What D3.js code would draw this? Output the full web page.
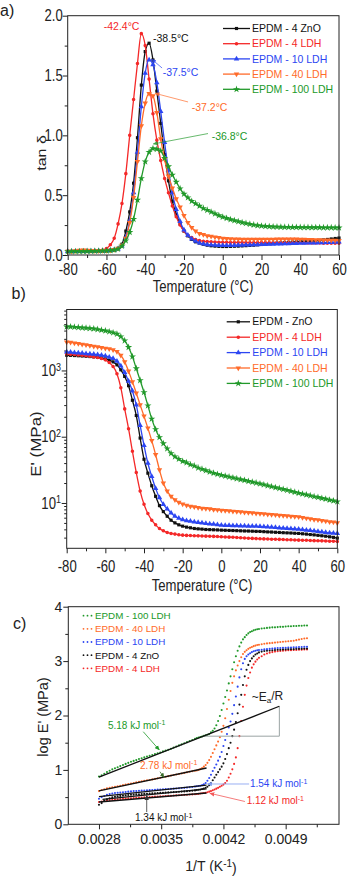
<!DOCTYPE html>
<html><head><meta charset="utf-8">
<script src="https://cdn.jsdelivr.net/npm/d3@7"></script>
<style>
body{margin:0;background:#fff}
svg{display:block}
text{font-family:"Liberation Sans",Arial,Helvetica,sans-serif}
</style>
</head><body>
<svg id="c" width="347" height="876"></svg>
<script>
// ---------------- DATA ----------------
const temps = [-80,-78,-76,-74,-72,-70,-68,-66,-64,-62,-60,-58,-56,-54,-52,-50,-48,-46,-44,-42,-40,-38,-36,-34,-32,-30,-28,-26,-24,-22,-20,-18,-16,-14,-12,-10,-8,-6,-4,-2,0,2,4,6,8,10,12,14,16,18,20,22,24,26,28,30,32,34,36,38,40,42,44,46,48,50,52,54,56,58,60];

// panel a: tan delta
const tanZnO = [.03,.03,.03,.03,.032,.032,.033,.033,.034,.035, .036,.04,.045,.055,.09,.2,.36,.6,.98,1.42, 1.7,1.77,1.63,1.37,1.1,.84,.62,.45,.34,.26, .2,.16,.13,.11,.1,.09,.082,.077,.074,.072, .071,.071,.072,.073,.074,.076,.078,.08,.082,.085, .088,.091,.094,.097,.1,.102,.104,.106,.108,.11, .112,.114,.116,.118,.12,.123,.126,.13,.134,.138, .142];
const tan4LDH = [.03,.03,.032,.033,.035,.035,.036,.037,.038,.042, .055,.085,.14,.26,.43,.68,1.0,1.3,1.6,1.85, 1.75,1.47,1.18,.96,.79,.64,.52,.41,.32,.25, .2,.165,.145,.13,.12,.115,.112,.11,.108,.107, .106,.106,.105,.105,.105,.105,.104,.104,.104,.104, .104,.104,.104,.103,.103,.103,.103,.102,.102,.102, .102,.101,.101,.1,.1,.1,.099,.099,.098,.098, .098];
const tan10LDH = [.03,.03,.031,.031,.032,.032,.033,.033,.034,.034, .035,.038,.042,.05,.075,.15,.29,.52,.86,1.24, 1.52,1.63,1.59,1.44,1.2,.94,.71,.52,.38,.28, .21,.165,.135,.115,.1,.092,.087,.084,.082,.081, .08,.08,.08,.081,.082,.083,.084,.085,.086,.087, .088,.089,.09,.091,.092,.093,.094,.095,.096,.097, .098,.099,.1,.101,.102,.103,.104,.105,.106,.108, .11];
const tan40LDH = [.03,.03,.035,.04,.042,.04,.037,.035,.035,.036, .037,.04,.045,.055,.08,.14,.27,.48,.78,1.08, 1.27,1.35,1.33,1.19,.97,.8,.66,.56,.47,.4, .33,.27,.23,.2,.18,.17,.16,.155,.15,.145, .14,.137,.135,.133,.132,.131,.13,.13,.13,.13, .13,.13,.13,.131,.132,.132,.133,.133,.132,.132, .131,.13,.129,.128,.127,.126,.125,.124,.123,.122, .12];
const tan100LDH = [.03,.03,.03,.03,.03,.031,.032,.033,.034,.035, .036,.038,.042,.05,.075,.12,.19,.3,.46,.64, .78,.86,.89,.885,.87,.81,.74,.67,.61,.555, .51,.48,.45,.43,.41,.39,.375,.36,.345,.33, .318,.307,.297,.288,.28,.272,.265,.258,.252,.247, .243,.24,.238,.236,.235,.234,.233,.233,.232,.232, .231,.231,.231,.23,.23,.23,.229,.229,.229,.228, .228];

// panel b: storage modulus E' (MPa)
const modZnO = [1698,1690,1679,1667,1652,1637,1622,1603,1585,1549, 1496,1429,1349,1216,1023,813,589,355,209,95.5, 45.7,28.2,18.2,12.6,9.12,7.41,6.31,5.5,5.01,4.68, 4.47,4.32,4.22,4.12,4.07,4.03,3.98,3.96,3.94,3.92, 3.89,3.87,3.85,3.84,3.82,3.8,3.78,3.77,3.75,3.73, 3.72,3.69,3.66,3.64,3.61,3.59,3.56,3.54,3.52,3.49, 3.47,3.43,3.39,3.34,3.3,3.25,3.2,3.15,3.09,3.03, 2.95];
const mod4LDH = [1778,1758,1738,1718,1698,1667,1641,1603,1567,1514, 1445,1318,1148,891,550,263,132,60.3,28.8,15.1, 9.55,6.92,5.5,4.68,4.12,3.8,3.59,3.47,3.39,3.31, 3.27,3.24,3.22,3.21,3.19,3.18,3.16,3.15,3.13,3.11, 3.09,3.07,3.05,3.03,3.01,2.99,2.96,2.94,2.92,2.9, 2.88,2.87,2.86,2.84,2.83,2.82,2.81,2.79,2.78,2.77, 2.75,2.74,2.73,2.72,2.7,2.69,2.68,2.67,2.65,2.64, 2.63];
const mod10LDH = [1905,1884,1862,1841,1820,1799,1778,1758,1738,1698, 1660,1585,1514,1380,1175,933,692,490,302,148, 74.1,39.8,25.1,16.6,12,9.55,8.13,7.08,6.31,5.89, 5.62,5.43,5.31,5.19,5.07,5.01,4.9,4.84,4.79,4.7, 4.62,4.6,4.58,4.56,4.54,4.52,4.5,4.48,4.47,4.45, 4.42,4.38,4.34,4.3,4.26,4.22,4.18,4.14,4.1,4.07, 4.03,3.96,3.9,3.84,3.78,3.72,3.66,3.6,3.54,3.51, 3.47];
const mod40LDH = [2692,2661,2600,2541,2483,2427,2371,2317,2265,2213, 2163,2113,2042,1928,1698,1349,977,676,457,302, 204,135,87.1,53.7,31.6,20,15.1,12.6,11.2,10.2, 9.66,9.23,8.91,8.71,8.51,8.32,8.22,8.13,7.94,7.85, 7.76,7.67,7.59,7.5,7.41,7.33,7.24,7.16,7.08,7, 6.92,6.84,6.76,6.68,6.61,6.53,6.46,6.38,6.31,6.24, 6.17,6.03,5.89,5.75,5.62,5.56,5.43,5.31,5.19,5.13, 5.01];
const mod100LDH = [4570,4570,4520,4470,4420,4370,4320,4270,4170,4070, 3980,3850,3720,3550,3240,2820,2240,1620,1070,708, 468,295,186,129,98,79,66,56,50,46, 42.7,40.7,38,36.3,33.9,32.4,30.9,29.5,28.2,27.2, 26.3,25.5,24.8,24,23.3,22.6,22,21.3,20.7,20.1, 19.5,18.9,18.3,17.7,17.1,16.6,16.1,15.6,15.1,14.6, 14.1,13.7,13.3,12.9,12.5,12.2,11.8,11.5,11.1,10.8, 10.5];

// panel c: log E' vs 1/T
const invT = [0.00280,0.00283,0.00286,0.00289,0.00292,0.00295,0.00298,0.00301,0.00304,0.00307,0.00310,0.00313,0.00316,0.00319,0.00322,0.00325,0.00328,0.00331,0.00334,0.00337,0.00340,0.00343,0.00346,0.00349,0.00352,0.00355,0.00358,0.00361,0.00364,0.00367,0.00370,0.00373,0.00376,0.00379,0.00382,0.00385,0.00388,
 0.00390,0.00392,0.00394,0.00396,0.00398,0.00400,0.00402,0.00404,0.00406,0.00408,0.00410,0.00412,0.00414,0.00416,0.00418,0.00420,0.00422,0.00424,0.00426,0.00428,0.00430,0.00432,0.00434,0.00436,0.00438,0.00440,0.00442,0.00444,0.00446,0.00448,0.00450,0.00452,0.00454,0.00456,0.00458,0.00460,
 0.00463,0.00466,0.00469,0.00472,0.00475,0.00478,0.00481,0.00484,0.00487,0.00490,0.00493,0.00496,0.00499,0.00502,0.00505,0.00508,0.00511,0.00514];
const log100LDH = [0.88,0.90,0.93,0.96,0.985,1.01,1.03,1.05,1.07,1.09,1.11,1.13,1.15,1.165,1.18,1.20,1.215,1.23,1.245,1.26,1.275,1.29,1.305,1.32,1.34,1.355,1.37,1.39,1.41,1.43,1.45,1.47,1.49,1.51,1.53,1.55,1.57,
 1.585,1.595,1.605,1.615,1.625,1.635,1.645,1.66,1.69,1.72,1.76,1.82,1.90,1.99,2.10,2.22,2.34,2.46,2.59,2.72,2.85,2.98,3.09,3.19,3.27,3.34,3.40,3.44,3.48,3.51,3.535,3.55,3.565,3.575,3.585,3.59,
 3.60,3.605,3.61,3.615,3.62,3.62,3.625,3.63,3.63,3.635,3.64,3.64,3.645,3.645,3.65,3.65,3.655,3.655];
const log40LDH = [0.61,0.63,0.645,0.66,0.67,0.68,0.69,0.70,0.71,0.72,0.73,0.74,0.75,0.76,0.77,0.78,0.79,0.80,0.81,0.815,0.825,0.835,0.845,0.855,0.865,0.875,0.885,0.895,0.905,0.915,0.925,0.935,0.945,0.955,0.965,0.975,0.985,
 0.99,1.0,1.015,1.035,1.06,1.09,1.13,1.18,1.24,1.31,1.38,1.45,1.52,1.60,1.70,1.81,1.95,2.12,2.29,2.45,2.60,2.72,2.83,2.92,3.00,3.07,3.13,3.17,3.20,3.225,3.245,3.26,3.275,3.285,3.295,3.30,
 3.31,3.32,3.325,3.33,3.335,3.34,3.345,3.35,3.355,3.36,3.365,3.37,3.375,3.385,3.395,3.405,3.415,3.42];
const log10LDH = [0.47,0.50,0.52,0.54,0.555,0.565,0.575,0.58,0.585,0.59,0.595,0.60,0.605,0.61,0.613,0.616,0.619,0.622,0.625,0.628,0.631,0.634,0.637,0.64,0.643,0.646,0.649,0.652,0.655,0.658,0.662,0.666,0.67,0.675,0.68,0.686,0.693,
 0.70,0.705,0.71,0.72,0.735,0.76,0.80,0.85,0.91,0.98,1.04,1.10,1.17,1.24,1.33,1.44,1.55,1.66,1.78,1.89,2.03,2.19,2.35,2.53,2.70,2.85,2.96,3.04,3.09,3.12,3.145,3.165,3.18,3.19,3.20,3.205,
 3.21,3.215,3.22,3.225,3.23,3.235,3.24,3.24,3.245,3.245,3.25,3.25,3.255,3.255,3.26,3.26,3.265,3.265];
const logZnO = [0.36,0.39,0.43,0.46,0.48,0.495,0.505,0.515,0.522,0.528,0.533,0.538,0.542,0.546,0.55,0.553,0.556,0.559,0.562,0.565,0.568,0.571,0.574,0.577,0.58,0.583,0.586,0.589,0.592,0.595,0.598,0.601,0.605,0.609,0.613,0.618,0.623,
 0.63,0.635,0.64,0.648,0.658,0.672,0.69,0.72,0.76,0.81,0.86,0.91,0.96,1.01,1.06,1.12,1.20,1.29,1.40,1.50,1.62,1.74,1.88,2.04,2.20,2.38,2.56,2.72,2.84,2.93,3.00,3.05,3.09,3.12,3.14,3.16,
 3.175,3.185,3.19,3.195,3.20,3.205,3.21,3.21,3.215,3.215,3.22,3.22,3.22,3.225,3.225,3.225,3.23,3.23];
const log4LDH = [0.41,0.42,0.43,0.44,0.445,0.45,0.455,0.46,0.464,0.468,0.472,0.476,0.48,0.484,0.487,0.49,0.493,0.496,0.499,0.502,0.505,0.508,0.511,0.514,0.517,0.52,0.523,0.526,0.529,0.532,0.535,0.538,0.541,0.544,0.547,0.55,0.553,
 0.556,0.56,0.565,0.57,0.575,0.58,0.59,0.60,0.61,0.625,0.64,0.655,0.67,0.69,0.71,0.73,0.76,0.80,0.86,0.93,1.01,1.11,1.23,1.40,1.62,1.90,2.16,2.38,2.55,2.69,2.79,2.88,2.94,2.99,3.03,3.06,
 3.09,3.12,3.14,3.155,3.165,3.175,3.18,3.185,3.19,3.195,3.20,3.20,3.205,3.205,3.21,3.21,3.215,3.215];

// fitted lines (panel c), order: 100 LDH, 40 LDH, 10 LDH, 4 ZnO, 4 LDH
const fitX0 = [0.00280, 0.00280, 0.00280, 0.00284, 0.00280];
const fitY0 = [0.867, 0.615, 0.51, 0.46, 0.41];
const fitX1 = [0.004829, 0.00401, 0.00401, 0.00401, 0.00401];
const fitY1 = [2.17, 1.035, 0.72, 0.65, 0.575];

const namesA = ["EPDM - 4 ZnO","EPDM - 4 LDH","EPDM - 10 LDH","EPDM - 40 LDH","EPDM - 100 LDH"];
const namesB = ["EPDM - ZnO","EPDM - 4 LDH","EPDM - 10 LDH","EPDM - 40 LDH","EPDM - 100 LDH"];
const namesC = ["EPDM - 100 LDH","EPDM - 40 LDH","EPDM - 10 LDH","EPDM - 4 ZnO","EPDM - 4 LDH"];
const peakLabels = ["-42.4°C","-38.5°C","-37.5°C","-37.2°C","-36.8°C"];
const eaLabels = ["5.18","2.78","1.54","1.34","1.12"];

const xTicksAB = [-80,-60,-40,-20,0,20,40,60];
const xMinorAB = [-70,-50,-30,-10,10,30,50];
const yTicksA = [0,0.5,1.0,1.5,2.0];
const yMinorA = [0.25,0.75,1.25,1.75];
const yTicksB = [10,100,1000];
const yMinorB = [3,4,5,6,7,8,9,20,30,40,50,60,70,80,90,200,300,400,500,600,700,800,900,2000,3000,4000,5000,6000,7000,8000];
const xTicksC = [0.0028,0.0035,0.0042,0.0049];
const xMinorC = [0.00315,0.00385,0.00455,0.00525];
const yTicksC = [0,1,2,3,4];
const yMinorC = [0.5,1.5,2.5,3.5];

// ---------------- STYLE ----------------
const INK = "#222";
const colors = ["#111111","#f42828","#2c46f2","#ff6b2a","#21992a"]; // ZnO, 4, 10, 40, 100
const symbols = [d3.symbolSquare, d3.symbolCircle, d3.symbolTriangle, d3.symbolTriangle, d3.symbolStar];
const symSize = [10, 10, 13, 13, 16];
const symRot = [0,0,0,180,0];
const SX = 0.82;

const svg = d3.select("#c");
const defs = svg.append("defs");
function arrowHead(id, color){
  defs.append("marker").attr("id", id).attr("viewBox","0 0 8 8").attr("refX",7).attr("refY",4)
    .attr("markerWidth",5).attr("markerHeight",5).attr("markerUnits","userSpaceOnUse").attr("orient","auto")
    .append("path").attr("d","M0,0.5 L8,4 L0,7.5 z").attr("fill", color);
}

function txt(g, x, y, s, o={}){
  const t = g.append("text")
    .attr("transform", `translate(${x},${y}) rotate(${o.rot||0}) scale(${o.sx||1},${o.sy||1})`)
    .attr("text-anchor", o.anchor||"start").attr("dy","0.35em")
    .style("font-size",(o.size||12)+"px").attr("fill", o.fill||INK);
  if (s!==null) t.text(s);
  return t;
}
function styleAxis(g, size, sx){
  g.select(".domain").remove();
  g.selectAll(".tick line").attr("stroke", INK).attr("stroke-width",1);
  g.selectAll(".tick text").attr("fill", INK).style("font-size", size+"px")
    .style("font-family",'"Liberation Sans",Arial,sans-serif').attr("transform",`scale(${sx},1)`);
}
function frame(x0,x1,y0,y1){
  svg.append("rect").attr("x",x0).attr("y",y0).attr("width",x1-x0).attr("height",y1-y0)
    .attr("fill","none").attr("stroke",INK).attr("stroke-width",1);
}
function markerPath(i){ return d3.symbol().type(symbols[i]).size(symSize[i])(); }

// ================= PANEL A =================
const xa = d3.scaleLinear().domain([-80,60]).range([67.7,339]);
const ya = d3.scaleLinear().domain([0,2]).range([255,15.7]);
{
  const ga = svg.append("g");
  const ax = ga.append("g").attr("transform","translate(0,255)")
    .call(d3.axisBottom(xa).tickValues(xTicksAB).tickSize(5).tickSizeOuter(0).tickPadding(4).tickFormat(d=>String(d)));
  styleAxis(ax,16,SX);
  const axm = ga.append("g").attr("transform","translate(0,255)")
    .call(d3.axisBottom(xa).tickValues(xMinorAB).tickSize(3).tickSizeOuter(0).tickFormat(""));
  styleAxis(axm,16,1);
  const ay = ga.append("g").attr("transform","translate(67.7,0)")
    .call(d3.axisLeft(ya).tickValues(yTicksA).tickSize(5).tickSizeOuter(0).tickPadding(1).tickFormat(d3.format(".1f")));
  styleAxis(ay,16,SX);
  const aym = ga.append("g").attr("transform","translate(67.7,0)")
    .call(d3.axisLeft(ya).tickValues(yMinorA).tickSize(3).tickSizeOuter(0).tickFormat(""));
  styleAxis(aym,16,1);
  frame(67.7,339,15.7,255);

  const seriesA = [tanZnO, tan4LDH, tan10LDH, tan40LDH, tan100LDH];
  const line = d3.line().x((d,i)=>xa(temps[i])).y(d=>ya(d)).curve(d3.curveMonotoneX);
  seriesA.forEach((s,k)=>{
    ga.append("path").attr("d", line(s)).attr("fill","none").attr("stroke",colors[k]).attr("stroke-width",1.3);
    ga.append("g").selectAll("path").data(s).join("path")
      .attr("d", markerPath(k)).attr("fill",colors[k])
      .attr("transform",(d,i)=>`translate(${xa(temps[i])},${ya(d)}) rotate(${symRot[k]})`);
  });

  // peak annotations (data units)
  const annT = [-52.2, -36.0, -31.0, -16.0, -5.7];
  const annV = [1.908, 1.811, 1.524, 1.234, 0.989];
  const annC = [1,0,2,3,4];
  annT.forEach((t,i)=>{
    txt(ga, xa(t), ya(annV[i]), peakLabels[i], {size:10.5, fill:colors[annC[i]], anchor: i===0?"middle":"start"});
  });
  const leadFromT = [-31.3, -17.9, -7.6], leadFromV = [1.563, 1.279, 1.015];
  const leadToT = [-36.6, -34.9, -35.8], leadToV = [1.636, 1.351, 0.928];
  const leadC = [2,3,4];
  leadFromT.forEach((t,i)=>{
    arrowHead("aa"+i, colors[leadC[i]]);
    ga.append("line").attr("x1",xa(t)).attr("y1",ya(leadFromV[i])).attr("x2",xa(leadToT[i])).attr("y2",ya(leadToV[i]))
      .attr("stroke",colors[leadC[i]]).attr("stroke-width",0.8).attr("opacity",0.85).attr("marker-end",`url(#aa${i})`);
  });

  // legend
  namesA.forEach((n,i)=>{
    const y = 28.5 + i*15.2;
    ga.append("line").attr("x1",223).attr("x2",250).attr("y1",y).attr("y2",y).attr("stroke",colors[i]).attr("stroke-width",1.3);
    ga.append("path").attr("d",markerPath(i)).attr("fill",colors[i]).attr("transform",`translate(236.5,${y}) rotate(${symRot[i]})`);
    txt(ga, 252, y, n, {size:10.5, fill:colors[i]});
  });

  txt(ga, 203, 286, "Temperature (°C)", {size:16, sx:SX, anchor:"middle"});
  txt(ga, 41.5, 153, "tan δ", {size:16, rot:-90, sy:SX, anchor:"middle"});
  txt(ga, 0, 10, "a)", {size:16});
}

// ================= PANEL B =================
const xb = d3.scaleLinear().domain([-80,60]).range([66.7,337.3]);
const yb = d3.scaleLog().domain([2.07,8318]).range([548.3,309.5]);
{
  const gb = svg.append("g");
  const bx = gb.append("g").attr("transform","translate(0,548.3)")
    .call(d3.axisBottom(xb).tickValues(xTicksAB).tickSize(5).tickSizeOuter(0).tickPadding(7).tickFormat(d=>String(d)));
  styleAxis(bx,16,SX);
  const bxm = gb.append("g").attr("transform","translate(0,548.3)")
    .call(d3.axisBottom(xb).tickValues(xMinorAB).tickSize(3).tickSizeOuter(0).tickFormat(""));
  styleAxis(bxm,16,1);
  const by = gb.append("g").attr("transform","translate(66.7,0)")
    .call(d3.axisLeft(yb).tickValues(yTicksB).tickSize(5).tickSizeOuter(0).tickPadding(2).tickFormat(()=>""));
  styleAxis(by,16,SX);
  by.selectAll(".tick text").each(function(d){
    const t = d3.select(this);
    t.append("tspan").text("10");
    t.append("tspan").attr("dy","-0.5em").style("font-size","11px").text(Math.round(Math.log10(d)));
  });
  const bym = gb.append("g").attr("transform","translate(66.7,0)")
    .call(d3.axisLeft(yb).tickValues(yMinorB).tickSize(2.5).tickSizeOuter(0).tickFormat(""));
  styleAxis(bym,16,1);
  frame(66.7,337.3,309.5,548.3);

  const seriesB = [modZnO, mod4LDH, mod10LDH, mod40LDH, mod100LDH];
  const line = d3.line().x((d,i)=>xb(temps[i])).y(d=>yb(d)).curve(d3.curveMonotoneX);
  seriesB.forEach((s,k)=>{
    gb.append("path").attr("d", line(s)).attr("fill","none").attr("stroke",colors[k]).attr("stroke-width",1.3);
    gb.append("g").selectAll("path").data(s).join("path")
      .attr("d", markerPath(k)).attr("fill",colors[k])
      .attr("transform",(d,i)=>`translate(${xb(temps[i])},${yb(d)}) rotate(${symRot[k]})`);
  });

  namesB.forEach((n,i)=>{
    const y = 321.8 + i*15.4;
    gb.append("line").attr("x1",226.7).attr("x2",250).attr("y1",y).attr("y2",y).attr("stroke",colors[i]).attr("stroke-width",1.3);
    gb.append("path").attr("d",markerPath(i)).attr("fill",colors[i]).attr("transform",`translate(238.3,${y}) rotate(${symRot[i]})`);
    txt(gb, 252.3, y, n, {size:10.5, fill:colors[i]});
  });

  txt(gb, 202, 585, "Temperature (°C)", {size:16, sx:SX, anchor:"middle"});
  txt(gb, 36, 444, "E' (MPa)", {size:17, rot:-90, sy:SX, anchor:"middle"});
  txt(gb, 11.5, 293, "b)", {size:16});
}

// ================= PANEL C =================
const xc = d3.scaleLinear().domain([0.002455,0.0055]).range([68.3,339]);
const yc = d3.scaleLinear().domain([0,4]).range([824.3,606.7]);
{
  const gc = svg.append("g");
  const cx = gc.append("g").attr("transform","translate(0,824.3)")
    .call(d3.axisBottom(xc).tickValues(xTicksC).tickSize(5).tickSizeOuter(0).tickPadding(5).tickFormat(d3.format(".4f")));
  styleAxis(cx,14,1);
  const cxm = gc.append("g").attr("transform","translate(0,824.3)")
    .call(d3.axisBottom(xc).tickValues(xMinorC).tickSize(3).tickSizeOuter(0).tickFormat(""));
  styleAxis(cxm,14,1);
  const cy = gc.append("g").attr("transform","translate(68.3,0)")
    .call(d3.axisLeft(yc).tickValues(yTicksC).tickSize(5).tickSizeOuter(0).tickPadding(1).tickFormat(d3.format("d")));
  styleAxis(cy,14,1);
  const cym = gc.append("g").attr("transform","translate(68.3,0)")
    .call(d3.axisLeft(yc).tickValues(yMinorC).tickSize(3).tickSizeOuter(0).tickFormat(""));
  styleAxis(cym,14,1);
  frame(68.3,339,606.7,824.3);

  const seriesC = [log100LDH, log40LDH, log10LDH, logZnO, log4LDH];
  const colC = [colors[4], colors[3], colors[2], colors[0], colors[1]];
  // draw bottom-most last-in-legend first so green ends on top
  [4,3,2,1,0].forEach(k=>{
    gc.append("g").selectAll("circle").data(seriesC[k]).join("circle")
      .attr("cx",(d,i)=>xc(invT[i])).attr("cy",d=>yc(d)).attr("r",1.05).attr("fill",colC[k]);
  });
  // Ea/R triangle
  const triX = [0.003973, 0.004829, 0.004829], triY = [1.62, 1.62, 2.17];
  gc.append("path").attr("d", d3.line().x((d,i)=>xc(triX[i])).y(d=>yc(d))(triY))
    .attr("fill","none").attr("stroke","#9aa3a3").attr("stroke-width",1);
  // fitted lines
  fitX0.forEach((x0,i)=>{
    gc.append("line").attr("x1",xc(x0)).attr("y1",yc(fitY0[i])).attr("x2",xc(fitX1[i])).attr("y2",yc(fitY1[i]))
      .attr("stroke","#111").attr("stroke-width",1.3);
  });

  // activation energy labels, order: 100, 40, 10, ZnO, 4
  const eaX = [0.002901, 0.003261, 0.004498, 0.003205, 0.004461];
  const eaY = [1.825, 1.09, 0.741, 0.116, 0.434];
  const eaCol = [colors[4], colors[3], colors[2], "#111", colors[1]];
  eaLabels.forEach((s,i)=>{
    const t = txt(gc, xc(eaX[i]), yc(eaY[i]), null, {size:10, fill:eaCol[i]});
    t.append("tspan").text(s+" kJ mol");
    t.append("tspan").attr("dy","-0.45em").style("font-size","7px").text("-1");
  });
  const arX0 = [0.003298, 0.003486, 0.004489, 0.003337, 0.004442];
  const arY0 = [1.702, 0.967, 0.741, 0.226, 0.419];
  const arX1 = [0.003478, 0.003531, 0.00402, 0.003337, 0.004049];
  const arY1 = [1.368, 0.86, 0.741, 0.529, 0.57];
  const arCol = [colors[4], "#3a6b2a", "#7f9cf0", "#333", "#f25a5a"];
  arX0.forEach((x0,i)=>{
    arrowHead("ac"+i, arCol[i]);
    gc.append("line").attr("x1",xc(x0)).attr("y1",yc(arY0[i])).attr("x2",xc(arX1[i])).attr("y2",yc(arY1[i]))
      .attr("stroke",arCol[i]).attr("stroke-width",0.8).attr("marker-end",`url(#ac${i})`);
  });
  const ea = txt(gc, xc(0.004518), yc(2.346), null, {size:12});
  ea.append("tspan").text("~E");
  ea.append("tspan").attr("dy","0.3em").style("font-size","8px").text("a");
  ea.append("tspan").attr("dy","-0.3em").text("/R");

  // legend
  namesC.forEach((n,i)=>{
    const y = 615.7 + i*13.15;
    [83.5,87.5,91.5].forEach(x=>gc.append("circle").attr("cx",x).attr("cy",y).attr("r",0.9).attr("fill",colC[i]));
    txt(gc, 95, y, n, {size:9.8, fill:colC[i]});
  });

  const xt = txt(gc, 211, 866.5, null, {size:14, anchor:"middle"});
  xt.append("tspan").text("1/T (K");
  xt.append("tspan").attr("dy","-0.45em").style("font-size","10px").text("-1");
  xt.append("tspan").attr("dy","0.45em").text(")");
  txt(gc, 43, 717, "log E' (MPa)", {size:14.5, rot:-90, anchor:"middle"});
  txt(gc, 13, 623, "c)", {size:16});
}
</script>
</body></html>
